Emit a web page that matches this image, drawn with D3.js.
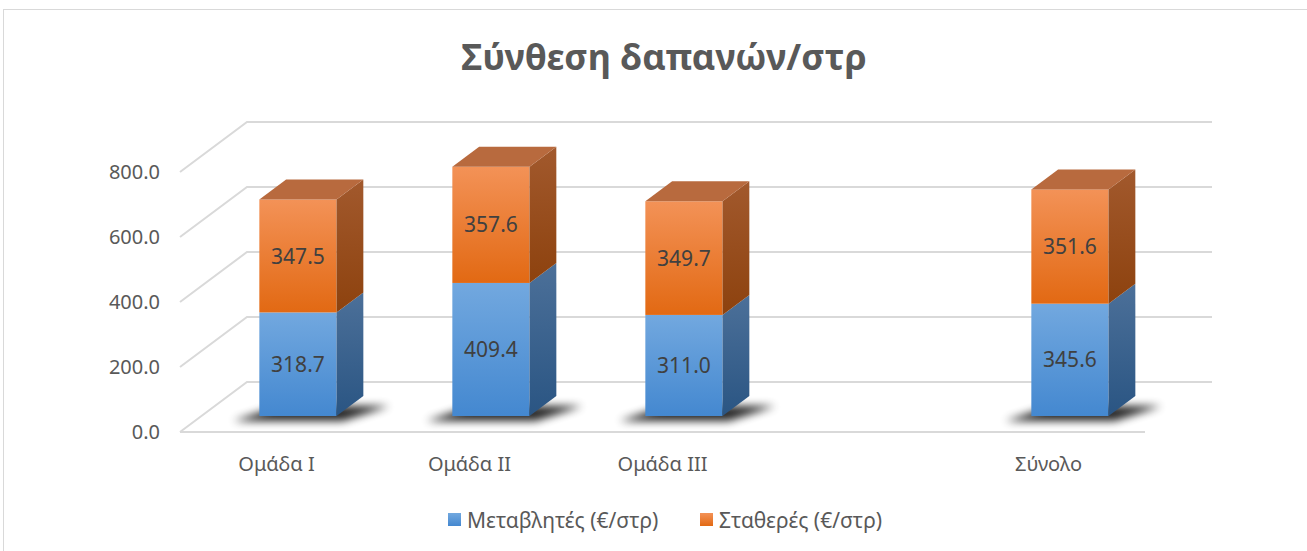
<!DOCTYPE html>
<html>
<head>
<meta charset="utf-8">
<script src="https://cdn.jsdelivr.net/npm/d3@7"></script>
<style>
  body { margin: 0; background: #fff; }
  text { font-family: "Noto Sans", "Open Sans", sans-serif; }
</style>
</head>
<body>
<div id="chart"></div>
<script>
// chart data
const categories = ["Ομάδα I", "Ομάδα II", "Ομάδα III", "", "Σύνολο"];
const variableCost = [318.7, 409.4, 311.0, null, 345.6];
const fixedCost = [347.5, 357.6, 349.7, null, 351.6];
const seriesNames = ["Μεταβλητές (€/στρ)", "Σταθερές (€/στρ)"];
const yTicks = [0, 200, 400, 600, 800];
const chartTitle = "Σύνθεση δαπανών/στρ";

const W = 1307, H = 551;
const DX = 67, DY = 50;          // depth of the 3d box
const D0 = 0.32, D1 = 0.72;      // bar depth range

const svg = d3.select("#chart").append("svg")
    .attr("width", W).attr("height", H);

const defs = svg.append("defs");
function grad(id, top, bottom) {
    const g = defs.append("linearGradient").attr("id", id)
        .attr("x1", 0).attr("y1", 0).attr("x2", 0).attr("y2", 1);
    g.append("stop").attr("offset", "0%").attr("stop-color", top);
    g.append("stop").attr("offset", "100%").attr("stop-color", bottom);
}
grad("blueFront", "#72a8df", "#4488d0");
grad("blueSide", "#4c7099", "#2a5583");
grad("orangeFront", "#f39257", "#e26913");
grad("orangeSide", "#a2592d", "#8d420e");
defs.append("filter").attr("id", "blur")
    .attr("x", "-50%").attr("y", "-100%").attr("width", "200%").attr("height", "300%")
    .append("feGaussianBlur").attr("stdDeviation", 4);

// border
svg.append("rect").attr("x", 3.5).attr("y", 9.5).attr("width", W + 10).attr("height", H + 10)
    .attr("fill", "none").attr("stroke", "#d9d9d9");

// title
svg.append("text").attr("x", 664).attr("y", 70).attr("text-anchor", "middle")
    .attr("font-size", 36).attr("font-weight", "bold").attr("fill", "#595959")
    .text(chartTitle);

const x = d3.scaleBand().domain(d3.range(categories.length)).range([180, 1145]);
const y = d3.scaleLinear().domain([0, 800]).range([432, 172]);

const P = (px, py, d) => [px + d * DX, py - d * DY];
const pts = arr => arr.map(p => p.join(",")).join(" ");

// back wall gridlines
const grid = svg.append("g").attr("stroke", "#d9d9d9").attr("stroke-width", 2).attr("fill", "none");
yTicks.forEach(t => {
    const a = P(x.range()[0], y(t), 0), b = P(x.range()[0], y(t), 1), c = P(x.range()[1], y(t), 1);
    grid.append("polyline").attr("points", pts([a, b, c]));
});
// floor front edge
grid.append("line").attr("x1", x.range()[0]).attr("x2", x.range()[1])
    .attr("y1", y(0)).attr("y2", y(0));

// y axis labels
svg.append("g").selectAll("text").data(yTicks).join("text")
    .attr("x", 160).attr("y", d => y(d)).attr("dy", "0.36em")
    .attr("text-anchor", "end").attr("font-size", 20).attr("fill", "#595959")
    .text(d => d.toFixed(1));

// category labels
svg.append("g").selectAll("text").data(categories).join("text")
    .attr("x", (d, i) => x(i) + x.bandwidth() / 2).attr("y", 471)
    .attr("text-anchor", "middle").attr("font-size", 20).attr("fill", "#595959")
    .text(d => d);

const bw = x.bandwidth() * 0.4;
const bars = svg.append("g");

categories.forEach((c, i) => {
    if (variableCost[i] == null) return;
    const xl = x(i) + (x.bandwidth() - bw) / 2 + D0 * DX;
    const xr = xl + bw;
    const base = y(0) - D0 * DY;
    const ddx = (D1 - D0) * DX, ddy = (D1 - D0) * DY;
    const g = bars.append("g");

    // floor shadow
    g.append("polygon")
        .attr("points", pts([[xl - 26, base + 5], [xr + 6, base + 5], [xr + ddx + 26, base - ddy + 10], [xl + 20, base - ddy + 10]]))
        .attr("fill", "#000").attr("opacity", 0.85).attr("filter", "url(#blur)");

    const segs = [
        {v0: 0, v1: variableCost[i], front: "url(#blueFront)", side: "url(#blueSide)"},
        {v0: variableCost[i], v1: variableCost[i] + fixedCost[i], front: "url(#orangeFront)", side: "url(#orangeSide)"}
    ];
    segs.forEach((s, k) => {
        const y0 = y(s.v0) - D0 * DY, y1 = y(s.v1) - D0 * DY;
        g.append("rect").attr("x", xl).attr("y", y1).attr("width", bw).attr("height", y0 - y1)
            .attr("fill", s.front);
        g.append("polygon")
            .attr("points", pts([[xr, y0], [xr, y1], [xr + ddx, y1 - ddy], [xr + ddx, y0 - ddy]]))
            .attr("fill", s.side);
        if (k === 1) {
            g.append("polygon")
                .attr("points", pts([[xl, y1], [xr, y1], [xr + ddx, y1 - ddy], [xl + ddx, y1 - ddy]]))
                .attr("fill", "#b86a3e");
        }
        const val = k === 0 ? variableCost[i] : fixedCost[i];
        g.append("text").attr("x", xl + bw / 2).attr("y", (y0 + y1) / 2).attr("dy", "0.36em")
            .attr("text-anchor", "middle").attr("font-size", 21).attr("fill", "#404040")
            .text(val.toFixed(1));
    });
});

// legend
const legend = svg.append("g");
const legendItems = [
    {name: seriesNames[0], fill: "url(#blueFront)", x: 448},
    {name: seriesNames[1], fill: "url(#orangeFront)", x: 700}
];
legendItems.forEach(d => {
    legend.append("rect").attr("x", d.x).attr("y", 513).attr("width", 13).attr("height", 13).attr("fill", d.fill);
    legend.append("text").attr("x", d.x + 19).attr("y", 520).attr("dy", "0.36em")
        .attr("font-size", 21).attr("fill", "#595959").text(d.name);
});
</script>
</body>
</html>
